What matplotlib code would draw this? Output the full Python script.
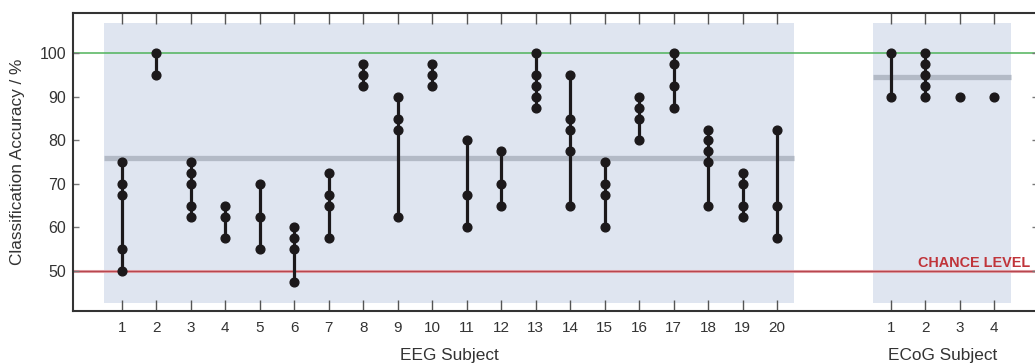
import numpy as np
import matplotlib
matplotlib.use("Agg")
import matplotlib.pyplot as plt
import matplotlib.transforms as mtransforms

plt.rcParams['font.family'] = ['Liberation Sans', 'DejaVu Sans']

# ---- data ----
eeg_labels = [str(i) for i in range(1, 21)]
eeg_acc = [
    [75, 70, 67.5, 55, 50],
    [100, 95],
    [75, 72.5, 70, 65, 62.5],
    [65, 62.5, 57.5],
    [70, 62.5, 55],
    [60, 57.5, 55, 47.5],
    [72.5, 67.5, 65, 57.5],
    [97.5, 95, 92.5],
    [90, 85, 82.5, 62.5],
    [97.5, 95, 92.5],
    [80, 67.5, 60],
    [77.5, 70, 65],
    [100, 95, 92.5, 90, 87.5],
    [95, 85, 82.5, 77.5, 65],
    [75, 70, 67.5, 60],
    [90, 87.5, 85, 80],
    [100, 97.5, 92.5, 87.5],
    [82.5, 80, 77.5, 75, 65],
    [72.5, 70, 65, 62.5],
    [82.5, 65, 57.5],
]
ecog_labels = ['1', '2', '3', '4']
ecog_acc = [
    [100, 90],
    [100, 97.5, 95, 92.5, 90],
    [90],
    [90],
]
eeg_mean = 76.0
ecog_mean = 94.6
chance_level = 50
perfect_level = 100
y_ticks = [50, 60, 70, 80, 90, 100]

# ---- layout ----
eeg_x = np.arange(1, 21)
ecog_x = np.arange(1, 5) + 22.29

W, H = 1035, 364
fig = plt.figure(figsize=(W / 100, H / 100), dpi=100)
ax_l, ax_r, ax_t, ax_b = 73, 1038, 13.3, 311
ax = fig.add_axes([ax_l / W, (H - ax_b) / H, (ax_r - ax_l) / W, (ax_b - ax_t) / H])
ax.set_xlim(-0.41, 27.56)
ax.set_ylim(40.8, 109.2)

shade = '#dfe5f0'
ax.axvspan(eeg_x[0] - 0.52, eeg_x[-1] + 0.5, ymin=(42.6 - 40.8) / 68.4, ymax=(107.05 - 40.8) / 68.4,
           color=shade, lw=0, zorder=0)
ax.axvspan(ecog_x[0] - 0.5, ecog_x[-1] + 0.5, ymin=(42.6 - 40.8) / 68.4, ymax=(107.05 - 40.8) / 68.4,
           color=shade, lw=0, zorder=0)

ax.axhline(perfect_level, color='#4fb35a', lw=1.1, zorder=1)
ax.axhline(chance_level, color='#e6aab0', lw=2.2, zorder=1)
ax.axhline(chance_level, color='#b8464e', lw=1.0, zorder=1)

ax.plot([eeg_x[0] - 0.52, eeg_x[-1] + 0.5], [eeg_mean, eeg_mean], color='#b3bac6', lw=3.8,
        solid_capstyle='butt', zorder=2)
ax.plot([ecog_x[0] - 0.5, ecog_x[-1] + 0.5], [ecog_mean, ecog_mean], color='#b3bac6', lw=3.8,
        solid_capstyle='butt', zorder=2)

dot = '#1c191b'
for xs, accs in ((eeg_x, eeg_acc), (ecog_x, ecog_acc)):
    for x, vals in zip(xs, accs):
        if len(vals) > 1:
            ax.plot([x, x], [min(vals), max(vals)], color=dot, lw=2.3, zorder=3)
        ax.plot([x] * len(vals), vals, 'o', color=dot, ms=6.3, mec=dot, zorder=4)

ax.text(27.34, 51.0, 'CHANCE LEVEL', color='#c0343a', fontsize=10.4, fontweight='bold',
        ha='right', va='baseline', zorder=5)

# ticks
all_x = np.concatenate([eeg_x, ecog_x])
ax.set_xticks(all_x)
ax.set_xticklabels(eeg_labels + ecog_labels)
ax.set_yticks(y_ticks)
ax.tick_params(axis='x', direction='in', length=8, width=1, color='#555555', top=True,
               labelsize=11, labelcolor='#333333', pad=7)
ax.tick_params(axis='y', direction='in', length=4, width=1, color='#777777', right=True,
               labelsize=11.5, labelcolor='#333333', pad=5)
for side in ['left', 'top', 'bottom', 'right']:
    ax.spines[side].set_color('#333333')
    ax.spines[side].set_linewidth(1.5)

trans = mtransforms.blended_transform_factory(ax.transData, ax.transAxes)
ax.text(eeg_x.mean(), -0.148, 'EEG Subject', transform=trans, ha='center', va='center',
        fontsize=12.4, color='#333333')
ax.text(ecog_x.mean(), -0.148, 'ECoG Subject', transform=trans, ha='center', va='center',
        fontsize=12.4, color='#333333')
fig.text(18 / W, (H - 162) / H, 'Classification Accuracy / %', rotation=90, ha='center', va='center',
         fontsize=12.4, color='#333333')

fig.savefig('out.png', dpi=100)
